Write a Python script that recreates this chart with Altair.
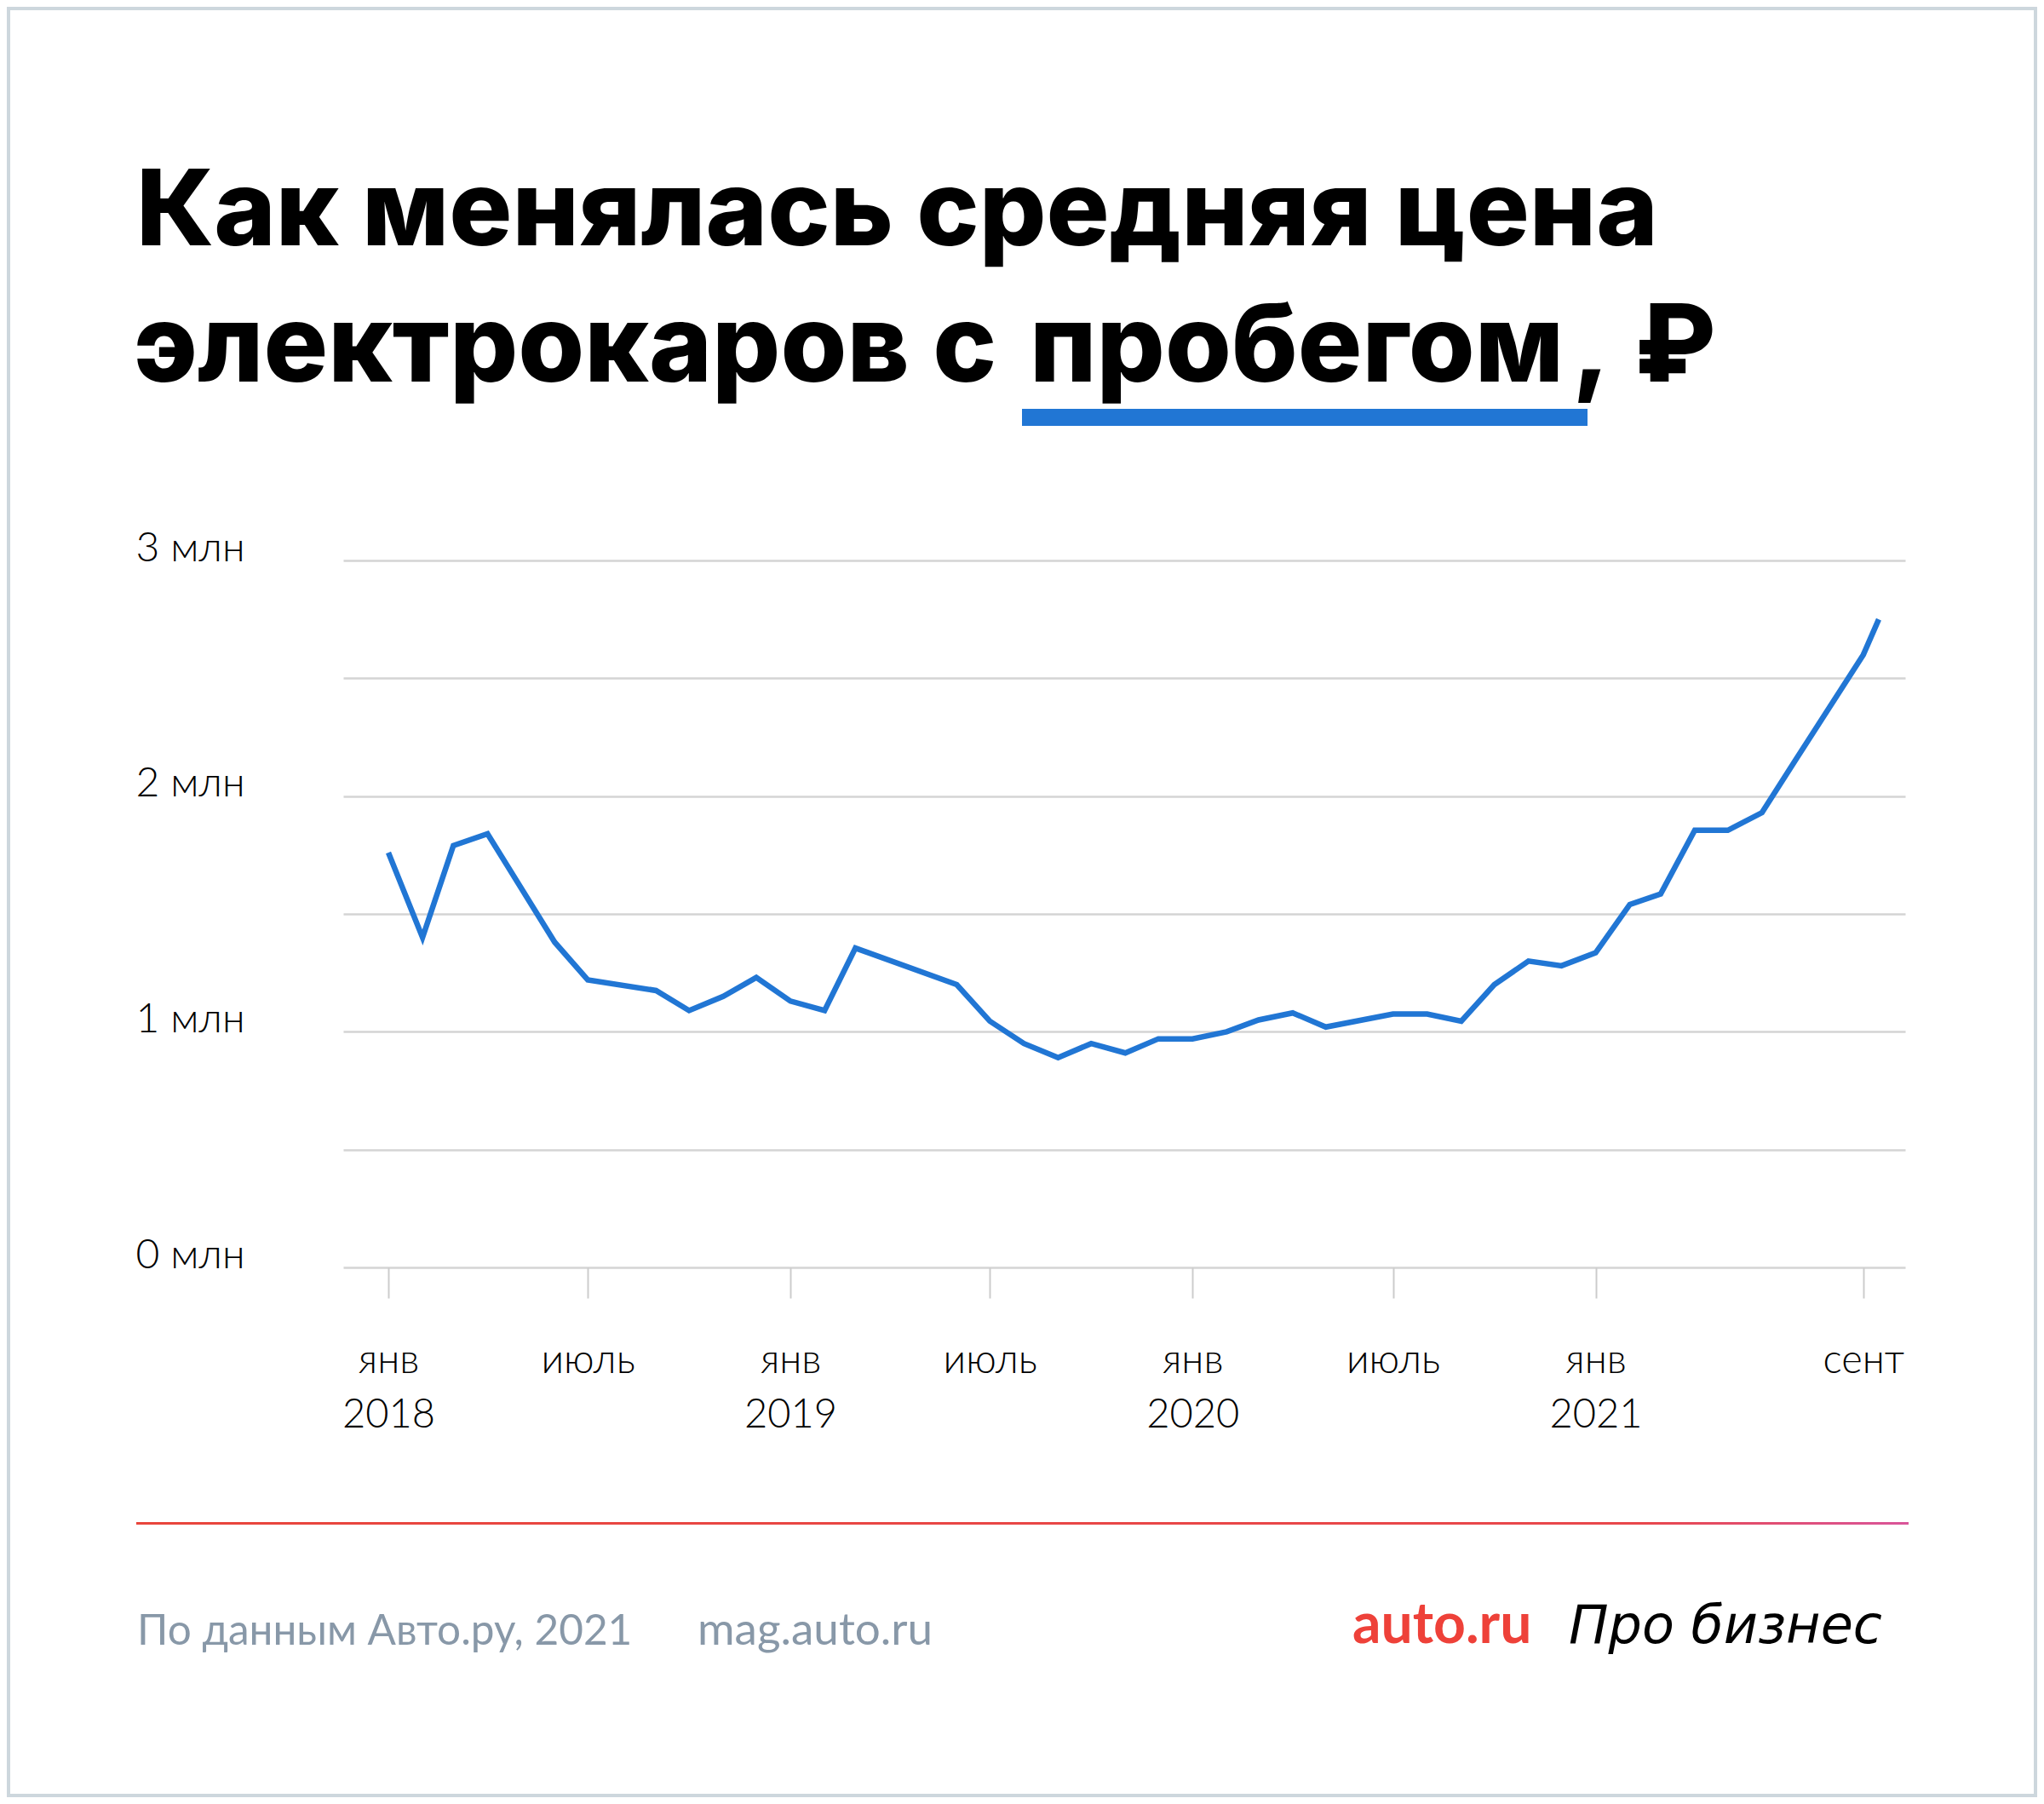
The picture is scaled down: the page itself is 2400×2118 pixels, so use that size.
import altair as alt
import pandas as pd

# ---------------- data ----------------
dates = [
    "2018-01-01", "2018-02-01", "2018-03-01", "2018-04-01", "2018-06-01",
    "2018-07-01", "2018-09-01", "2018-10-01", "2018-11-01", "2018-12-01",
    "2019-01-01", "2019-02-01", "2019-03-01", "2019-06-01", "2019-07-01",
    "2019-08-01", "2019-09-01", "2019-10-01", "2019-11-01", "2019-12-01",
    "2020-01-01", "2020-02-01", "2020-03-01", "2020-04-01", "2020-05-01",
    "2020-07-01", "2020-08-01", "2020-09-01", "2020-10-01", "2020-11-01",
    "2020-12-01", "2021-01-01", "2021-02-01", "2021-03-01", "2021-04-01",
    "2021-05-01", "2021-06-01", "2021-07-01", "2021-09-01", "2021-09-15",
]
price_mln = [
    1.76, 1.40, 1.79, 1.84, 1.38,
    1.22, 1.175, 1.09, 1.15, 1.23,
    1.13, 1.09, 1.355, 1.20, 1.045,
    0.95, 0.89, 0.95, 0.91, 0.97,
    0.97, 1.00, 1.05, 1.08, 1.02,
    1.075, 1.075, 1.045, 1.20, 1.30,
    1.28, 1.335, 1.54, 1.585, 1.855,
    1.855, 1.93, 2.15, 2.60, 2.75,
]
y_ticks = [0, 0.5, 1, 1.5, 2, 2.5, 3]
x_ticks = [(2018, 1), (2018, 7), (2019, 1), (2019, 7), (2020, 1), (2020, 7), (2021, 1), (2021, 9)]

title_line1 = "Как менялась средняя цена"
title_line2a = "электрокаров с"
title_line2b = "пробегом"
title_comma = ","
title_rub = "₽"
source_text = "По данным Авто.ру, 2021"
site_text = "mag.auto.ru"
brand_auto = "auto.ru"
brand_pro = "Про бизнес"

df = pd.DataFrame({"date": dates, "price": price_mln})

# ---------------- layout ----------------
W, H = 1834, 830          # plot area
PAD = {"left": 395, "top": 650, "right": 155, "bottom": 622}
OX, OY = 403, 658         # page position of plot origin


def px(v):
    return v - OX


def py(v):
    return v - OY


BLUE = "#2176d4"
TITLE_FONT = "Inter"
LABEL_FONT = "Lato"


def text_layer(txt, x, y, size, font, weight="normal", color="#000000", style="normal", align="left"):
    return alt.Chart(pd.DataFrame({"t": [txt]})).mark_text(
        font=font, fontSize=size, fontWeight=weight, fontStyle=style,
        color=color, align=align, baseline="alphabetic"
    ).encode(text="t:N", x=alt.value(x), y=alt.value(y))


one = pd.DataFrame({"k": [0]})

line = alt.Chart(df).mark_line(color=BLUE, strokeWidth=6.5, strokeJoin="miter").encode(
    x=alt.X(
        "date:T",
        scale=alt.Scale(domain=[alt.DateTime(year=2017, month=11, date=21, utc=True),
                                alt.DateTime(year=2021, month=10, date=9, utc=True)]),
        axis=alt.Axis(
            values=[alt.DateTime(year=y, month=m, date=1, utc=True) for y, m in x_ticks],
            labelExpr=("utcFormat(datum.value,'%m') == '01' ? ['янв', utcFormat(datum.value,'%Y')] : "
                       "(utcFormat(datum.value,'%m') == '07' ? 'июль' : 'сент')"),
            title=None, domain=False, grid=False,
            ticks=True, tickColor="#cccccc", tickWidth=2, tickSize=36,
            labelPadding=87, labelBaseline="alphabetic", labelAlign="center",
            labelLineHeight=64, labelFont=LABEL_FONT, labelFontSize=47,
            labelFontWeight=300,
            labelColor="#000000", labelFlush=False, labelOverlap=False,
        ),
    ),
    y=alt.Y(
        "price:Q",
        scale=alt.Scale(domain=[0, 3], nice=False),
        axis=alt.Axis(
            values=y_ticks,
            labelExpr="datum.value % 1 == 0 ? datum.value + ' млн' : ''",
            title=None, domain=False, ticks=False, tickSize=0,
            grid=True, gridColor="#d4d4d4", gridWidth=2.5,
            labelAlign="left", labelBaseline="alphabetic", labelPadding=244,
            labelFont=LABEL_FONT, labelFontSize=48, labelFontWeight=300,
            labelColor="#000000", labelOverlap=False,
        ),
    ),
)

border = alt.Chart(one).mark_rect(fillOpacity=0, stroke="#cdd7dd", strokeWidth=4).encode(
    x=alt.value(-PAD["left"] + 2), x2=alt.value(W + PAD["right"] - 2),
    y=alt.value(-PAD["top"] + 2), y2=alt.value(H + PAD["bottom"] - 2),
)

underline = alt.Chart(one).mark_rect(color=BLUE).encode(
    x=alt.value(px(1200)), x2=alt.value(px(1864)),
    y=alt.value(py(480)), y2=alt.value(py(500)),
)

footer_rule = alt.Chart(one).mark_rect(
    fill=alt.Gradient(
        gradient="linear",
        stops=[alt.GradientStop(color="#e8453c", offset=0),
               alt.GradientStop(color="#e8474c", offset=0.85),
               alt.GradientStop(color="#d9559a", offset=1)],
        x1=0, x2=1, y1=0, y2=0,
    )
).encode(
    x=alt.value(px(160)), x2=alt.value(px(2241)),
    y=alt.value(py(1787)), y2=alt.value(py(1790)),
)

t1 = text_layer(title_line1, px(160), py(288), 123.5, TITLE_FONT, 800)
t2a = text_layer(title_line2a, px(157), py(448), 126, TITLE_FONT, 800)
t2b = text_layer(title_line2b, px(1209), py(448), 126, TITLE_FONT, 800)
t2c = text_layer(title_comma, px(1846), py(448), 126, TITLE_FONT, 800)
t2d = text_layer(title_rub, px(1919), py(448), 126, TITLE_FONT, 800)

src = text_layer(source_text, px(161), py(1931), 49.5, LABEL_FONT, "normal", "#8898a8")
site = text_layer(site_text, px(819), py(1931), 53, LABEL_FONT, "normal", "#8898a8")
auto = text_layer(brand_auto, px(1588), py(1929), 66, LABEL_FONT, "bold", "#ee4139")
pro = text_layer(brand_pro, px(1842), py(1929), 62, "DejaVu Sans", "normal", "#000000", "italic")

chart = alt.layer(
    border, underline, footer_rule, line, t1, t2a, t2b, t2c, t2d, src, site, auto, pro
).properties(
    width=W, height=H, padding=PAD, autosize=alt.AutoSizeParams(type="none"),
    background="#ffffff",
).configure_view(stroke=None)

chart.save("out.html", embed_options={"renderer": "svg", "actions": False})
